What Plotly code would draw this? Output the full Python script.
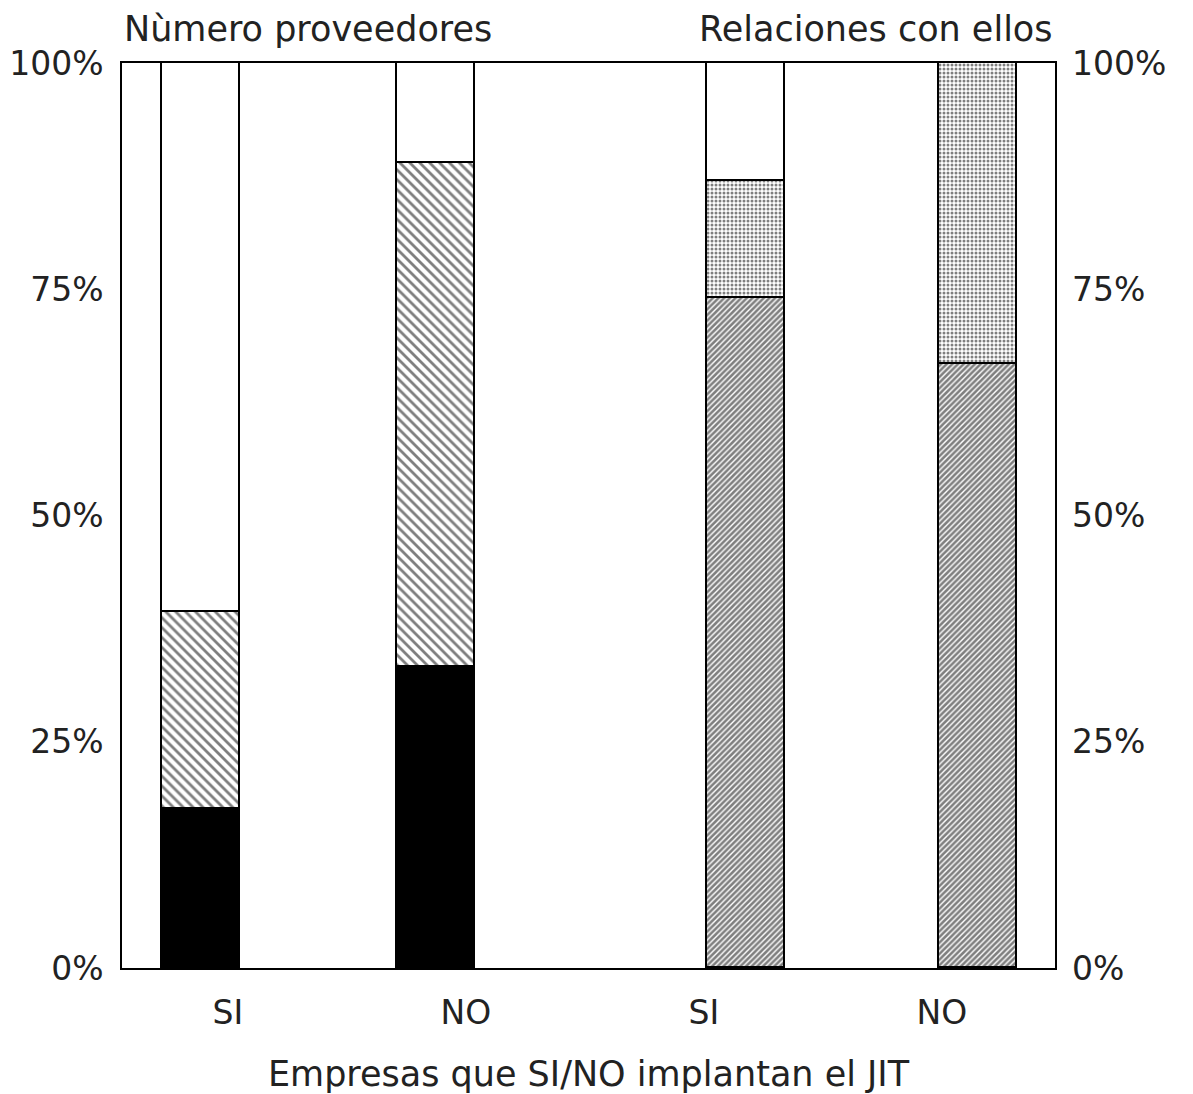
import plotly.graph_objects as go

# Company groups: firms that do / do not implement JIT
groups = ["SI", "NO"]

# Panel 1: number of suppliers (percent of firms)
prov_black = [17.6, 33.3]
prov_hatch = [21.7, 55.6]
prov_white = [60.7, 11.1]

# Panel 2: type of relationship with suppliers (percent of firms)
rel_hatch = [74.0, 66.7]
rel_dots = [13.0, 33.3]
rel_white = [13.0, 0.0]

y_ticks = [0, 25, 50, 75, 100]
y_tick_text = ["0%", "25%", "50%", "75%", "100%"]

titles = ["Nùmero proveedores", "Relaciones con ellos"]
x_title = "Empresas que SI/NO implantan el JIT"

# positions of the four category slots on the x axis
pos_left = [0, 1]
pos_right = [2, 3]

# bar geometry (left-edge offset relative to each slot, in axis units)
BAR_W = 0.328
off_left = [-0.277, -0.29]
off_right = [0.012, -0.012]

FONT = "DejaVu Sans"
INK = "#222222"
OUT = dict(color="black", width=1.6)

fig = go.Figure()


def add_bar(x, y, off, yaxis, color, pattern=None):
    marker = dict(color=color, line=OUT)
    if pattern:
        marker["pattern"] = pattern
    fig.add_trace(go.Bar(
        x=x, y=y, width=BAR_W, offset=off, yaxis=yaxis,
        marker=marker, showlegend=False, hoverinfo="skip",
    ))


add_bar(pos_left, prov_black, off_left, "y", "black")
add_bar(pos_left, prov_hatch, off_left, "y", "white",
        dict(shape="\\", fgcolor="black", bgcolor="white", size=7, solidity=0.4))
add_bar(pos_left, prov_white, off_left, "y", "white")

add_bar(pos_right, rel_hatch, off_right, "y2", "white",
        dict(shape="/", fgcolor="black", bgcolor="white", size=4, solidity=0.65))
add_bar(pos_right, rel_dots, off_right, "y2", "white",
        dict(shape=".", fgcolor="black", bgcolor="white", size=4, solidity=0.45))
add_bar(pos_right, rel_white, off_right, "y2", "white")

tick_font = dict(family=FONT, size=33, color=INK)
title_font = dict(family=FONT, size=35, color=INK)

fig.update_layout(
    width=1193, height=1094,
    margin=dict(l=122, r=138, t=63, b=126, autoexpand=False),
    paper_bgcolor="white", plot_bgcolor="white",
    barmode="stack", bargap=0,
    font=dict(family=FONT, color=INK),
    xaxis=dict(
        range=[-0.445, 3.475], automargin=False,
        tickvals=pos_left + pos_right,
        ticktext=groups + groups,
        tickfont=tick_font, ticklabelstandoff=15,
        ticks="", showgrid=False, zeroline=False,
        showline=True, mirror=True, linecolor="black", linewidth=1.6,
        title=dict(text=x_title, font=title_font, standoff=30),
    ),
    yaxis=dict(
        range=[0, 100], tickvals=y_ticks, ticktext=y_tick_text,
        automargin=False,
        tickfont=tick_font, ticks="", ticklabelstandoff=10,
        showgrid=False, zeroline=False,
        showline=True, mirror=True, linecolor="black", linewidth=1.6,
    ),
    yaxis2=dict(
        range=[0, 100], tickvals=y_ticks, ticktext=y_tick_text,
        automargin=False,
        tickfont=tick_font, ticks="", ticklabelstandoff=16,
        overlaying="y", side="right",
        showgrid=False, zeroline=False, showline=False,
    ),
    annotations=[
        dict(text=titles[0], xref="paper", yref="paper", x=0, y=1,
             xanchor="left", yanchor="bottom", yshift=12, showarrow=False,
             font=title_font),
        dict(text=titles[1], xref="paper", yref="paper", x=1, y=1,
             xanchor="right", yanchor="bottom", yshift=12, showarrow=False,
             font=title_font),
    ],
)

fig.write_html("out.html")
